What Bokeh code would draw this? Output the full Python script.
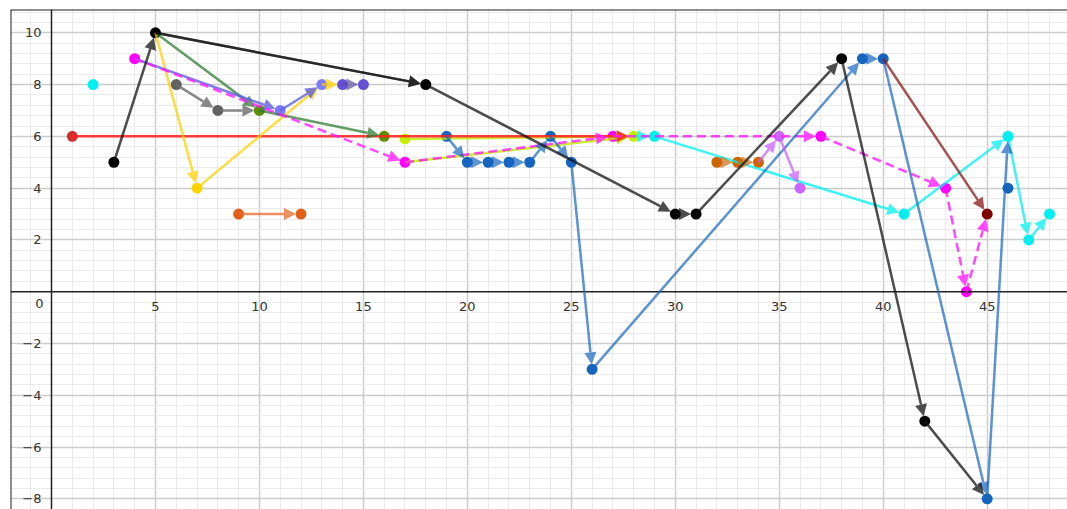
import math
from bokeh.plotting import figure
from bokeh.models import Arrow, NormalHead, ColumnDataSource, FixedTicker, Label, Span
from bokeh.embed import file_html
from bokeh.resources import INLINE

# ---------------- data ----------------
x_ticks = [5, 10, 15, 20, 25, 30, 35, 40, 45]
x_tick_labels = ["5", "10", "15", "20", "25", "30", "35", "40", "45"]
y_ticks = [-8, -6, -4, -2, 2, 4, 6, 8, 10]
y_tick_labels = ["\u22128", "\u22126", "\u22124", "\u22122", "2", "4", "6", "8", "10"]
origin_label = "0"

red_path_x = [1, 28];  red_path_y = [6, 6]
red_pts_x = [1];       red_pts_y = [6]

cyan_path_x = [28, 29, 41, 46, 47, 48];  cyan_path_y = [6, 6, 3, 6, 2, 3]
cyan_pts_x = [2, 29, 41, 46, 47, 48];    cyan_pts_y = [8, 6, 3, 6, 2, 3]

ygreen_path_x = [17, 28];  ygreen_path_y = [5.9, 6]
ygreen2_path_x = [17, 28]; ygreen2_path_y = [5, 6]
ygreen_pts_x = [17, 28];   ygreen_pts_y = [5.9, 6]

yellow_path_x = [5, 7, 13, 14];  yellow_path_y = [10, 4, 8, 8]
yellow_pts_x = [7];              yellow_pts_y = [4]

gray_path_x = [6, 8, 10];  gray_path_y = [8, 7, 7]
gray_pts_x = [6, 8];       gray_pts_y = [8, 7]

green_path_x = [5, 10, 16];  green_path_y = [10, 7, 6]
green_pts_x = [10, 16];      green_pts_y = [7, 6]

violet_path_x = [4, 11, 13];  violet_path_y = [9, 7, 8]
violet_pts_x = [11, 13];      violet_pts_y = [7, 8]

dviolet_path_x = [14, 15];  dviolet_path_y = [8, 8]
dviolet_pts_x = [14, 15];   dviolet_pts_y = [8, 8]

orange_path_x = [9, 12];  orange_path_y = [3, 3]
orange_pts_x = [9, 12];   orange_pts_y = [3, 3]

magenta_path_x = [4, 17, 27, 37, 43, 44, 45];  magenta_path_y = [9, 5, 6, 6, 4, 0, 3]
magenta_pts_x = [4, 17, 27, 37, 43, 44];       magenta_pts_y = [9, 5, 6, 6, 4, 0]

blue_path_x = [19, 20, 21, 22, 23, 24, 25, 26, 39, 40, 45, 46]
blue_path_y = [6, 5, 5, 5, 5, 6, 5, -3, 9, 9, -8, 6]
blue_pts_x = [19, 20, 21, 22, 23, 24, 25, 26, 39, 40, 45, 46]
blue_pts_y = [6, 5, 5, 5, 5, 6, 5, -3, 9, 9, -8, 4]

brown_path_x = [32, 33, 34];  brown_path_y = [5, 5, 5]
brown_pts_x = [32, 33, 34];   brown_pts_y = [5, 5, 5]

lpurple_path_x = [34, 35, 36];  lpurple_path_y = [5, 6, 4]
lpurple_pts_x = [35, 36];       lpurple_pts_y = [6, 4]

maroon_path_x = [40, 45];  maroon_path_y = [9, 3]
maroon_pts_x = [45];       maroon_pts_y = [3]

black_path_x = [3, 5, 18, 30, 31, 38, 42, 45]
black_path_y = [5, 10, 8, 3, 3, 9, -5, -8]
black2_path_x = [5, 18]
black2_path_y = [10, 8]
black_pts_x = [3, 5, 18, 30, 31, 38, 42]
black_pts_y = [5, 10, 8, 3, 3, 9, -5]

# (path_x, path_y, line colour, line alpha, dash)
paths = [
    (cyan_path_x, cyan_path_y, "#00f0f0", 0.75, "solid"),
    (ygreen_path_x, ygreen_path_y, "#c2e600", 0.8, "solid"),
    (ygreen2_path_x, ygreen2_path_y, "#c2e600", 0.8, "solid"),
    (red_path_x, red_path_y, "#ff2020", 0.85, "solid"),
    (yellow_path_x, yellow_path_y, "#ffd000", 0.75, "solid"),
    (gray_path_x, gray_path_y, "#6a6a6a", 0.8, "solid"),
    (green_path_x, green_path_y, "#2e7d32", 0.75, "solid"),
    (violet_path_x, violet_path_y, "#6060e0", 0.8, "solid"),
    (dviolet_path_x, dviolet_path_y, "#5e4fa2", 0.7, "solid"),
    (orange_path_x, orange_path_y, "#e8692a", 0.75, "solid"),
    (magenta_path_x, magenta_path_y, "#ff1aff", 0.8, "9 5"),
    (blue_path_x, blue_path_y, "#1565c0", 0.7, "solid"),
    (brown_path_x, brown_path_y, "#d06a10", 0.7, "solid"),
    (lpurple_path_x, lpurple_path_y, "#c860ff", 0.75, "solid"),
    (maroon_path_x, maroon_path_y, "#8b1a1a", 0.75, "solid"),
    (black_path_x, black_path_y, "#111111", 0.75, "solid"),
    (black2_path_x, black2_path_y, "#111111", 0.6, "solid"),
]

# (pts_x, pts_y, colour)
points = [
    (red_pts_x, red_pts_y, "#d32f2f"),
    (cyan_pts_x, cyan_pts_y, "#00f0f0"),
    (yellow_pts_x, yellow_pts_y, "#ffd400"),
    (gray_pts_x, gray_pts_y, "#616161"),
    (green_pts_x, green_pts_y, "#5a8f00"),
    (violet_pts_x, violet_pts_y, "#7b7bff"),
    (dviolet_pts_x, dviolet_pts_y, "#6650d8"),
    (orange_pts_x, orange_pts_y, "#e2601a"),
    (ygreen_pts_x, ygreen_pts_y, "#c6ef00"),
    (magenta_pts_x, magenta_pts_y, "#ff00ff"),
    (blue_pts_x, blue_pts_y, "#1565c0"),
    (brown_pts_x, brown_pts_y, "#cc6600"),
    (lpurple_pts_x, lpurple_pts_y, "#cc66ff"),
    (maroon_pts_x, maroon_pts_y, "#7f0000"),
    (black_pts_x, black_pts_y, "#000000"),
]

# ---------------- figure ----------------
W, H = 1067, 509
BL, BT = 10, 9
SX, SY = 20.793, 25.89          # pixels per unit
X0 = -41.0 / SX
X1 = X0 + (W - BL) / SX
Y1 = 10 + (32.3 - BT) / SY
Y0 = Y1 - (H - BT) / SY
MARKER = 11
GAP = 5.0

p = figure(width=W, height=H, x_range=(X0, X1), y_range=(Y0, Y1),
           output_backend="svg", toolbar_location=None, title=None,
           min_border_left=BL, min_border_top=BT, min_border_right=0, min_border_bottom=0,
           border_fill_color="white", outline_line_color=None,
           background_fill_color="white")

xt = FixedTicker(ticks=x_ticks, minor_ticks=list(range(-1, 49)))
yt = FixedTicker(ticks=y_ticks, minor_ticks=[round(-8.4 + 0.4 * i, 2) for i in range(49)])
p.xaxis.ticker = xt
p.yaxis.ticker = yt
p.xgrid.ticker = xt
p.ygrid.ticker = yt
p.xaxis.fixed_location = 0
p.yaxis.fixed_location = 0
p.xaxis.major_label_overrides = {t: s for t, s in zip(x_ticks, x_tick_labels)}
p.yaxis.major_label_overrides = {t: s for t, s in zip(y_ticks, y_tick_labels)}
for ax in (p.xaxis[0], p.yaxis[0]):
    ax.axis_line_color = None
    ax.major_tick_line_color = None
    ax.minor_tick_line_color = None
    ax.major_tick_out = 0
    ax.major_tick_in = 0
    ax.major_label_text_font = "DejaVu Sans"
    ax.major_label_text_font_size = "13px"
    ax.major_label_text_color = "#333333"
p.xaxis.major_label_standoff = 6
p.yaxis.major_label_standoff = 6
for g in (p.xgrid[0], p.ygrid[0]):
    g.grid_line_color = "#cccccc"
    g.grid_line_width = 1.5
    g.minor_grid_line_color = "#ebebeb"
    g.minor_grid_line_width = 1

# axis lines through the origin and the top / left frame border
p.add_layout(Span(location=0, dimension="height", line_color="#222222", line_width=1.5))
p.add_layout(Span(location=0, dimension="width", line_color="#222222", line_width=1.5))
p.add_layout(Span(location=X0, dimension="height", line_color="#1e1e1e", line_width=2))
p.add_layout(Span(location=Y1, dimension="width", line_color="#1e1e1e", line_width=2))

p.add_layout(Label(x=0, y=0, text=origin_label, x_offset=-8, y_offset=-7,
                   text_align="right", text_baseline="top", text_font="DejaVu Sans",
                   text_font_size="13px", text_color="#333333"))

for px, py, col, alpha, dash in paths:
    d = dict(x0=[], y0=[], x1=[], y1=[])
    for i in range(len(px) - 1):
        ddx = (px[i + 1] - px[i]) * SX
        ddy = (py[i + 1] - py[i]) * SY
        L = math.hypot(ddx, ddy)
        d["x0"].append(px[i]); d["y0"].append(py[i])
        d["x1"].append(px[i + 1] - ddx / L * GAP / SX)
        d["y1"].append(py[i + 1] - ddy / L * GAP / SY)
    head = NormalHead(size=12, fill_color=col, fill_alpha=alpha, line_color=None)
    p.add_layout(Arrow(end=head, source=ColumnDataSource(d), x_start="x0", y_start="y0",
                       x_end="x1", y_end="y1", line_color=col, line_alpha=alpha,
                       line_width=2.5, line_dash=dash))

for qx, qy, col in points:
    p.scatter(qx, qy, size=MARKER, marker="circle", fill_color=col, line_color=None)

open("out.html", "w").write(file_html(p, INLINE))
